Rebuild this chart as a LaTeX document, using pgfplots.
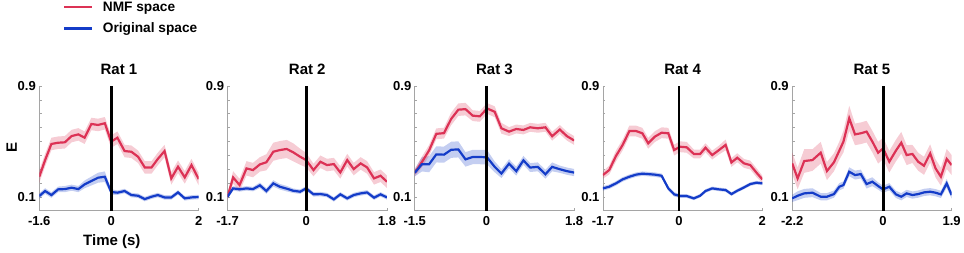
\documentclass[border=0pt]{standalone}
\usepackage{fontspec}
\setmainfont{Liberation Sans}
\usepackage{pgfplots}
\usepackage{pgfplotstable}
\pgfplotsset{compat=1.18}
\usepgfplotslibrary{fillbetween}
\definecolor{myred}{RGB}{220,50,85}
\definecolor{myblue}{RGB}{20,60,200}
\definecolor{axgray}{RGB}{165,165,165}

% columns: time, NMF mean, NMF sem, original mean, original sem
\pgfplotstableread{
x r re b be
-1.60 0.246 0.045 0.107 0.020
-1.47 0.366 0.045 0.143 0.020
-1.33 0.482 0.045 0.114 0.020
-1.18 0.491 0.045 0.155 0.020
-1.03 0.494 0.045 0.157 0.022
-0.88 0.539 0.045 0.167 0.022
-0.73 0.551 0.045 0.157 0.022
-0.59 0.527 0.045 0.191 0.028
-0.44 0.626 0.045 0.215 0.032
-0.29 0.619 0.045 0.239 0.036
-0.14 0.631 0.045 0.246 0.038
0.00 0.499 0.045 0.136 0.020
0.14 0.527 0.045 0.131 0.016
0.30 0.431 0.045 0.143 0.016
0.45 0.426 0.045 0.114 0.016
0.60 0.390 0.045 0.109 0.016
0.75 0.313 0.045 0.085 0.016
0.90 0.313 0.045 0.102 0.016
1.04 0.374 0.045 0.114 0.016
1.19 0.431 0.045 0.097 0.016
1.34 0.234 0.045 0.097 0.016
1.49 0.318 0.045 0.133 0.016
1.64 0.241 0.045 0.090 0.016
1.79 0.330 0.045 0.097 0.016
1.95 0.229 0.045 0.100 0.016
}\ratA

\pgfplotstableread{
x r re b be
-1.70 0.102 0.026 0.102 0.016
-1.58 0.241 0.045 0.162 0.016
-1.44 0.186 0.045 0.155 0.016
-1.29 0.306 0.052 0.162 0.016
-1.15 0.294 0.052 0.157 0.016
-1.00 0.335 0.052 0.184 0.020
-0.86 0.350 0.058 0.143 0.020
-0.71 0.426 0.065 0.198 0.023
-0.57 0.438 0.065 0.174 0.020
-0.42 0.446 0.065 0.160 0.020
-0.28 0.422 0.065 0.145 0.016
-0.13 0.390 0.058 0.138 0.016
0.00 0.366 0.052 0.162 0.016
0.16 0.294 0.045 0.119 0.016
0.31 0.354 0.045 0.121 0.016
0.45 0.330 0.045 0.114 0.016
0.60 0.337 0.045 0.083 0.016
0.74 0.277 0.045 0.119 0.016
0.89 0.366 0.045 0.090 0.016
1.03 0.301 0.045 0.114 0.016
1.18 0.342 0.045 0.126 0.016
1.32 0.313 0.045 0.133 0.016
1.47 0.234 0.045 0.095 0.016
1.61 0.253 0.045 0.119 0.016
1.75 0.210 0.045 0.097 0.016
}\ratB

\pgfplotstableread{
x r re b be
-1.50 0.274 0.026 0.274 0.026
-1.35 0.352 0.039 0.336 0.052
-1.20 0.436 0.039 0.336 0.058
-1.05 0.555 0.039 0.407 0.058
-0.89 0.560 0.039 0.405 0.058
-0.74 0.662 0.045 0.440 0.058
-0.59 0.729 0.045 0.443 0.058
-0.44 0.733 0.045 0.371 0.052
-0.29 0.686 0.039 0.388 0.052
-0.14 0.681 0.039 0.388 0.052
0.01 0.738 0.039 0.386 0.052
0.17 0.714 0.039 0.317 0.039
0.31 0.595 0.039 0.269 0.032
0.47 0.571 0.032 0.340 0.032
0.62 0.590 0.032 0.286 0.032
0.77 0.583 0.032 0.364 0.032
0.91 0.602 0.032 0.312 0.032
1.07 0.595 0.032 0.317 0.032
1.23 0.602 0.032 0.264 0.032
1.37 0.538 0.032 0.317 0.032
1.53 0.586 0.032 0.300 0.026
1.68 0.538 0.032 0.286 0.026
1.83 0.507 0.032 0.276 0.026
}\ratC

\pgfplotstableread{
x r re b be
-1.70 0.258 0.026 0.162 0.016
-1.56 0.294 0.032 0.174 0.016
-1.41 0.395 0.039 0.198 0.016
-1.26 0.475 0.039 0.227 0.016
-1.11 0.575 0.039 0.246 0.016
-0.96 0.575 0.039 0.261 0.016
-0.82 0.559 0.039 0.268 0.016
-0.69 0.487 0.039 0.265 0.016
-0.54 0.535 0.039 0.261 0.016
-0.39 0.563 0.039 0.253 0.016
-0.24 0.559 0.039 0.162 0.016
-0.11 0.438 0.039 0.119 0.016
0.02 0.462 0.039 0.107 0.013
0.17 0.458 0.039 0.107 0.013
0.33 0.410 0.032 0.090 0.013
0.47 0.410 0.032 0.109 0.013
0.59 0.455 0.032 0.143 0.013
0.74 0.402 0.032 0.162 0.013
0.89 0.438 0.032 0.155 0.013
1.04 0.475 0.039 0.150 0.013
1.17 0.349 0.032 0.121 0.013
1.30 0.383 0.032 0.145 0.013
1.45 0.342 0.032 0.169 0.013
1.59 0.330 0.032 0.193 0.013
1.73 0.275 0.032 0.203 0.013
1.86 0.227 0.026 0.198 0.013
}\ratD

\pgfplotstableread{
x r re b be
-2.20 0.342 0.078 0.090 0.026
-2.07 0.234 0.078 0.109 0.032
-1.91 0.359 0.085 0.126 0.032
-1.71 0.366 0.078 0.131 0.032
-1.51 0.419 0.078 0.102 0.026
-1.36 0.287 0.065 0.102 0.026
-1.19 0.350 0.065 0.121 0.026
-1.06 0.434 0.065 0.174 0.026
-0.96 0.499 0.078 0.186 0.026
-0.82 0.667 0.090 0.282 0.032
-0.68 0.551 0.078 0.258 0.032
-0.54 0.559 0.078 0.265 0.032
-0.40 0.571 0.078 0.193 0.032
-0.26 0.499 0.078 0.210 0.032
-0.12 0.419 0.078 0.179 0.026
0.00 0.450 0.078 0.155 0.026
0.15 0.354 0.078 0.174 0.026
0.31 0.434 0.078 0.119 0.026
0.44 0.491 0.078 0.102 0.026
0.57 0.402 0.072 0.126 0.026
0.71 0.410 0.065 0.114 0.026
0.85 0.354 0.065 0.121 0.026
0.99 0.325 0.065 0.133 0.026
1.14 0.414 0.065 0.138 0.026
1.27 0.306 0.065 0.131 0.026
1.40 0.246 0.065 0.119 0.026
1.54 0.374 0.072 0.198 0.032
1.66 0.330 0.072 0.114 0.026
}\ratE

\pgfplotsset{rat/.style={
  scale only axis, width=159.5pt, height=125pt, anchor=south west,
  ymin=0, ymax=0.9,
  axis x line=bottom, axis y line=left,
  axis line style={draw=axgray, line width=0.8pt, -},
  ytick={0.1,0.9}, yticklabels={0.1,0.9},
  minor ytick={0.2,0.3,0.4,0.5,0.6,0.7,0.8},
  tick align=inside,
  major tick length=2.5pt, minor tick length=2.5pt,
  tick style={draw=axgray, line width=0.6pt},
  tick label style={font=\bfseries\fontsize{13}{15}\selectfont},
  xticklabel style={anchor=base, yshift=-15pt},
  title style={font=\bfseries\fontsize{15}{18}\selectfont, anchor=base, yshift=5pt},
}}

\newcommand{\ratplots}[1]{%
  \addplot[draw=none, name path=ru, forget plot] table[x=x, y expr=\thisrow{r}+\thisrow{re}] {#1};
  \addplot[draw=none, name path=rl, forget plot] table[x=x, y expr=\thisrow{r}-\thisrow{re}] {#1};
  \addplot[draw=none, name path=bu, forget plot] table[x=x, y expr=\thisrow{b}+\thisrow{be}] {#1};
  \addplot[draw=none, name path=bl, forget plot] table[x=x, y expr=\thisrow{b}-\thisrow{be}] {#1};
  \addplot[fill=myblue, fill opacity=0.25, draw=none, forget plot] fill between[of=bu and bl];
  \addplot[fill=myred, fill opacity=0.25, draw=none, forget plot] fill between[of=ru and rl];
  \addplot[myred, line width=2.2pt] table[x=x, y=r] {#1};
  \addplot[myblue, line width=2.2pt] table[x=x, y=b] {#1};
  \addplot[black, line width=2.8pt, forget plot] coordinates {(0,0) (0,0.9)};
}

\begin{document}
\begin{tikzpicture}
\path (0,0) rectangle (964pt,253pt);

\begin{axis}[rat, at={(39.3pt,42pt)}, xmin=-1.6, xmax=1.95,
  xtick={-1.6,0,1.95}, xticklabels={-1.6,0,2}, title={Rat 1},
  ylabel={E}, ylabel style={at={(axis description cs:-0.173,0.51)}, anchor=center, font=\bfseries\fontsize{15}{18}\selectfont},
  xlabel={Time (s)}, xlabel style={at={(axis description cs:0.455,0)}, anchor=base, yshift=-35pt, font=\bfseries\fontsize{15}{18}\selectfont},
  legend style={at={(axis description cs:0.147,1.68)}, anchor=north west, draw=none, fill=none, inner sep=0pt,
    font=\bfseries\fontsize{13.7}{15}\selectfont, row sep=9pt, column sep=9pt, nodes={inner sep=0.5pt}},
  legend cell align=left,
  legend image code/.code={\draw[#1, line width=2.5pt] (0pt,0pt) -- (28pt,0pt);}]
\ratplots{\ratA}
\legend{NMF space, Original space}
\end{axis}

\begin{axis}[rat, at={(227.7pt,42pt)}, xmin=-1.7, xmax=1.75,
  xtick={-1.7,0,1.75}, xticklabels={-1.7,0,1.8}, title={Rat 2}]
\ratplots{\ratB}
\end{axis}

\begin{axis}[rat, at={(415pt,42pt)}, xmin=-1.5, xmax=1.83,
  xtick={-1.5,0,1.83}, xticklabels={-1.5,0,1.8}, title={Rat 3}]
\ratplots{\ratC}
\end{axis}

\begin{axis}[rat, at={(603.3pt,42pt)}, xmin=-1.7, xmax=1.86,
  xtick={-1.7,0,1.86}, xticklabels={-1.7,0,2}, title={Rat 4}]
\ratplots{\ratD}
\end{axis}

\begin{axis}[rat, at={(792.7pt,42pt)}, xmin=-2.2, xmax=1.66,
  xtick={-2.2,0,1.66}, xticklabels={-2.2,0,1.9}, title={Rat 5}]
\ratplots{\ratE}
\end{axis}
\end{tikzpicture}
\end{document}
